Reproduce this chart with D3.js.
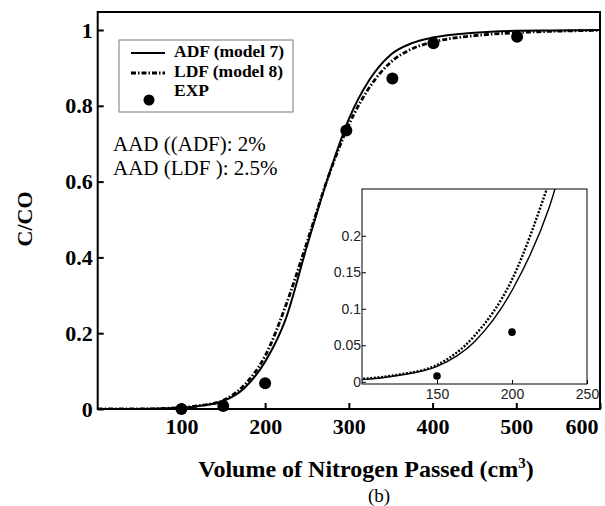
<!DOCTYPE html>
<html>
<head>
<meta charset="utf-8">
<script src="https://cdn.jsdelivr.net/npm/d3@7"></script>
<style>
  body { margin: 0; background: #fff; }
  svg { display: block; }
</style>
</head>
<body>
<div class="chart"></div>
<script>
// breakthrough curves, volume of N2 passed vs C/CO
var volume = [0, 50, 100, 125, 150, 175, 200, 225, 250, 275, 300, 325, 350, 375, 400, 450, 500, 550, 600];
var adf = [0, 0, 0.003, 0.009, 0.021, 0.055, 0.125, 0.24, 0.43, 0.61, 0.765, 0.87, 0.935, 0.965, 0.98, 0.993, 0.998, 0.999, 1.0];
var ldf = [0, 0, 0.004, 0.010, 0.023, 0.063, 0.14, 0.275, 0.44, 0.61, 0.75, 0.85, 0.915, 0.95, 0.968, 0.985, 0.993, 0.997, 0.999];
var expVolume = [100, 150, 200, 297, 352, 401, 501];
var expValue = [0, 0.008, 0.068, 0.735, 0.872, 0.965, 0.982];

var xTicks = [100, 200, 300, 400, 500, 600];
var yTicks = [0, 0.2, 0.4, 0.6, 0.8, 1];
var insetXTicks = [150, 200, 250];
var insetYTicks = [0, 0.05, 0.1, 0.15, 0.2];

var svg_width = 605,
    svg_height = 506,
    svg = d3.select('.chart').append('svg').attr('width', svg_width).attr('height', svg_height);

var serif = 'Liberation Serif, Times New Roman, serif';
var sans = 'Liberation Sans, Arial, sans-serif';

var x = d3.scaleLinear().domain([0, 600]).range([97.7, 600]);
var y = d3.scaleLinear().domain([0, 1.0475]).range([409, 12]);

var adfData = volume.map(function(v, i) { return {x: v, y: adf[i]}; });
var ldfData = volume.map(function(v, i) { return {x: v, y: ldf[i]}; });
var expData = expVolume.map(function(v, i) { return {x: v, y: expValue[i]}; });

svg.append('clipPath').attr('id', 'mainclip').append('rect')
  .attr('x', x(0)).attr('y', y(1.0475)).attr('width', x(600) - x(0)).attr('height', y(0) - y(1.0475));

function lineFor(xs, ys) {
  return d3.line().x(function(d) { return xs(d.x); }).y(function(d) { return ys(d.y); }).curve(d3.curveMonotoneX);
}

var main = svg.append('g');
var mainLine = lineFor(x, y);

main.append('path').datum(adfData).attr('clip-path', 'url(#mainclip)')
  .attr('d', mainLine).attr('fill', 'none').attr('stroke', '#000').attr('stroke-width', 2);
main.append('path').datum(ldfData).attr('clip-path', 'url(#mainclip)')
  .attr('d', mainLine).attr('fill', 'none').attr('stroke', '#000').attr('stroke-width', 2.8)
  .attr('stroke-dasharray', '5,2,1.5,2');
main.selectAll('.dot').data(expData).enter().append('circle')
  .attr('class', 'dot').attr('cx', function(d) { return x(d.x); }).attr('cy', function(d) { return y(d.y); })
  .attr('r', 6).attr('fill', '#000');

// axes, ticks pointing inward
var xAxis = main.append('g').attr('transform', 'translate(0,' + y(0) + ')')
  .call(d3.axisBottom(x).tickValues(xTicks).tickSize(-6).tickPadding(9).tickFormat(d3.format('d')));
var yAxis = main.append('g').attr('transform', 'translate(' + x(0) + ',0)')
  .call(d3.axisLeft(y).tickValues(yTicks).tickSize(-6).tickPadding(5).tickFormat(function(d) { return d; }));
[xAxis, yAxis].forEach(function(a) {
  a.select('.domain').remove();
  a.selectAll('line').attr('stroke', '#000').attr('stroke-width', 2);
  a.selectAll('text').attr('font-family', serif).attr('font-weight', 'bold').attr('font-size', 22).attr('fill', '#000');
});
// last label sits flush inside the right edge
xAxis.selectAll('.tick text').filter(function(d) { return d === 600; })
  .attr('text-anchor', 'end').attr('dx', -2);

main.append('rect').attr('x', x(0)).attr('y', y(1.0475)).attr('width', x(600) - x(0)).attr('height', y(0) - y(1.0475))
  .attr('fill', 'none').attr('stroke', '#000').attr('stroke-width', 2);

// legend
var legend = svg.append('g');
legend.append('rect').attr('x', 119).attr('y', 40).attr('width', 174).attr('height', 72)
  .attr('fill', '#fff').attr('stroke', '#777').attr('stroke-width', 1);
legend.append('line').attr('x1', 131).attr('x2', 165).attr('y1', 53).attr('y2', 53)
  .attr('stroke', '#000').attr('stroke-width', 2);
legend.append('line').attr('x1', 131).attr('x2', 165).attr('y1', 73).attr('y2', 73)
  .attr('stroke', '#000').attr('stroke-width', 2.8).attr('stroke-dasharray', '5,2,1.5,2');
legend.append('circle').attr('cx', 149).attr('cy', 100).attr('r', 5.5).attr('fill', '#000');
[['ADF (model 7)', 57], ['LDF (model 8)', 77], ['EXP', 96]].forEach(function(t) {
  legend.append('text').attr('x', 174).attr('y', t[1]).text(t[0])
    .attr('font-family', serif).attr('font-weight', 'bold').attr('font-size', 17.5);
});

svg.append('text').attr('x', 113).attr('y', 151).text('AAD ((ADF): 2%')
  .attr('font-family', serif).attr('font-size', 21);
svg.append('text').attr('x', 113).attr('y', 175).text('AAD (LDF ): 2.5%')
  .attr('font-family', serif).attr('font-size', 21);

// axis titles
svg.append('text').attr('transform', 'translate(32,219) rotate(-90)').attr('text-anchor', 'middle')
  .attr('font-family', serif).attr('font-weight', 'bold').attr('font-size', 22).text('C/CO');
var xt = svg.append('text').attr('x', 366).attr('y', 477).attr('text-anchor', 'middle')
  .attr('font-family', serif).attr('font-weight', 'bold').attr('font-size', 24);
xt.append('tspan').text('Volume of Nitrogen Passed (cm');
xt.append('tspan').attr('dy', -9).attr('font-size', 15).text('3');
xt.append('tspan').attr('dy', 9).text(')');
svg.append('text').attr('x', 379).attr('y', 502).attr('text-anchor', 'middle')
  .attr('font-family', serif).attr('font-size', 19).text('(b)');

// inset zoom of the early breakthrough
var ix = d3.scaleLinear().domain([100, 250]).range([362, 587]);
var iy = d3.scaleLinear().domain([-0.003, 0.264]).range([384, 189]);
var inset = svg.append('g');
inset.append('rect').attr('x', 362).attr('y', 189).attr('width', 225).attr('height', 195).attr('fill', '#fff');
svg.append('clipPath').attr('id', 'insetclip').append('rect')
  .attr('x', 362).attr('y', 189).attr('width', 225).attr('height', 195);
var insetLine = lineFor(ix, iy);
inset.append('path').datum(adfData).attr('clip-path', 'url(#insetclip)')
  .attr('d', insetLine).attr('fill', 'none').attr('stroke', '#000').attr('stroke-width', 1.4);
inset.append('path').datum(ldfData).attr('clip-path', 'url(#insetclip)')
  .attr('d', insetLine).attr('fill', 'none').attr('stroke', '#000').attr('stroke-width', 2.4)
  .attr('stroke-dasharray', '2,1.6');
inset.selectAll('.idot').data(expData.filter(function(d) { return d.x >= 100 && d.x <= 250 && d.y > 0; }))
  .enter().append('circle').attr('class', 'idot')
  .attr('cx', function(d) { return ix(d.x); }).attr('cy', function(d) { return iy(d.y); })
  .attr('r', 3.8).attr('fill', '#000');

var ixAxis = inset.append('g').attr('transform', 'translate(0,384)')
  .call(d3.axisBottom(ix).tickValues(insetXTicks).tickSize(-4).tickPadding(5));
var iyAxis = inset.append('g').attr('transform', 'translate(362,0)')
  .call(d3.axisLeft(iy).tickValues(insetYTicks).tickSize(-4).tickPadding(1).tickFormat(function(d) { return d; }));
[ixAxis, iyAxis].forEach(function(a) {
  a.select('.domain').remove();
  a.selectAll('line').attr('stroke', '#000');
  a.selectAll('text').attr('font-family', sans).attr('font-size', 14).attr('fill', '#222');
});
inset.append('rect').attr('x', 362).attr('y', 189).attr('width', 225).attr('height', 195)
  .attr('fill', 'none').attr('stroke', '#000').attr('stroke-width', 1);
</script>
</body>
</html>
